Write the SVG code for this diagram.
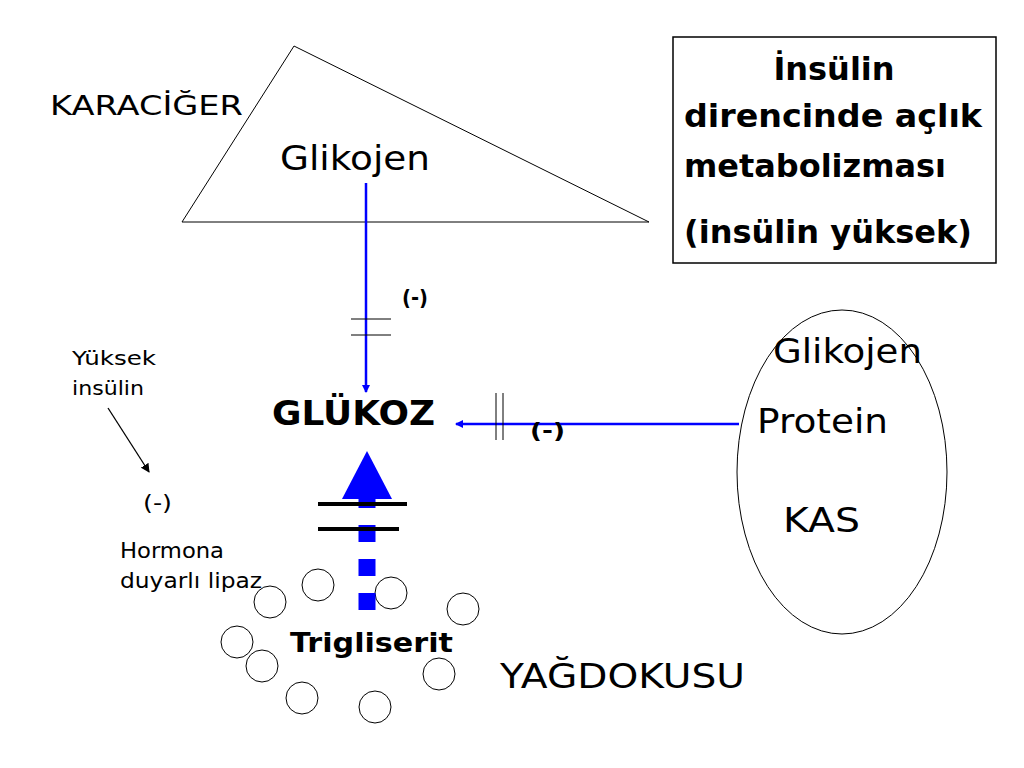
<svg xmlns="http://www.w3.org/2000/svg" width="1024" height="768" viewBox="0 0 1024 768">
<style>
text{font-family:"Comic Sans MS","DejaVu Sans","Liberation Sans",sans-serif;fill:#000}
.b{font-weight:bold}
.thin{fill:none;stroke:#000;stroke-width:1}
.blue{stroke:#0000ff;stroke-width:2.5;fill:none}
.circ{fill:#fff;stroke:#000;stroke-width:1}
</style>
<defs>
<marker id="ah" markerWidth="8" markerHeight="8" refX="7" refY="4" orient="auto" markerUnits="userSpaceOnUse" viewBox="0 0 8 8">
<path d="M0,0 L8,4 L0,8 Z" fill="#0000ff"/>
</marker>
<marker id="ak" markerWidth="9" markerHeight="9" refX="8" refY="4.5" orient="auto" markerUnits="userSpaceOnUse" viewBox="0 0 9 9">
<path d="M0,0 L9,4.5 L0,9 Z" fill="#000"/>
</marker>
</defs>
<rect width="1024" height="768" fill="#fff"/>

<g id="liver">
<polygon class="thin" points="294,46 182,222 649,222"/>
<text x="50" y="115" font-size="26" textLength="193" lengthAdjust="spacingAndGlyphs">KARACİĞER</text>
<text x="280" y="170" font-size="34" textLength="150" lengthAdjust="spacingAndGlyphs">Glikojen</text>
</g>

<g id="titlebox">
<rect x="673" y="37" width="323" height="226" fill="#fff" stroke="#000" stroke-width="1.5"/>
<text class="b" x="834" y="80" font-size="32" text-anchor="middle">İnsülin</text>
<text class="b" x="684" y="127" font-size="32" textLength="298" lengthAdjust="spacingAndGlyphs">direncinde açlık</text>
<text class="b" x="684" y="177" font-size="32" textLength="262" lengthAdjust="spacingAndGlyphs">metabolizması</text>
<text class="b" x="684" y="243" font-size="32" textLength="288" lengthAdjust="spacingAndGlyphs">(insülin yüksek)</text>
</g>

<g id="glukoz">
<text class="b" x="272" y="425" font-size="34" textLength="163" lengthAdjust="spacingAndGlyphs">GLÜKOZ</text>
</g>

<g id="muscle">
<ellipse class="thin" cx="842" cy="472" rx="105" ry="162"/>
<text x="773" y="363" font-size="34" textLength="149" lengthAdjust="spacingAndGlyphs">Glikojen</text>
<text x="757" y="433" font-size="34" textLength="131" lengthAdjust="spacingAndGlyphs">Protein</text>
<text x="783" y="532" font-size="34" textLength="77" lengthAdjust="spacingAndGlyphs">KAS</text>
</g>

<g id="adipose">
<circle class="circ" cx="270" cy="602" r="16"/>
<circle class="circ" cx="318" cy="585" r="16"/>
<circle class="circ" cx="391" cy="593" r="16"/>
<circle class="circ" cx="463" cy="609" r="16"/>
<circle class="circ" cx="237" cy="642" r="16"/>
<circle class="circ" cx="262" cy="666" r="16"/>
<circle class="circ" cx="439" cy="674" r="16"/>
<circle class="circ" cx="302" cy="698" r="16"/>
<circle class="circ" cx="375" cy="707" r="16"/>
<text class="b" x="290" y="652" font-size="26" textLength="163" lengthAdjust="spacingAndGlyphs">Trigliserit</text>
<text x="500" y="688" font-size="34" textLength="245" lengthAdjust="spacingAndGlyphs">YAĞDOKUSU</text>
</g>

<g id="lipase">
<text x="72" y="365" font-size="20" textLength="84" lengthAdjust="spacingAndGlyphs">Yüksek</text>
<text x="72" y="395" font-size="20" textLength="72" lengthAdjust="spacingAndGlyphs">insülin</text>
<text x="143" y="510" font-size="22" textLength="29" lengthAdjust="spacingAndGlyphs">(-)</text>
<text x="120" y="558" font-size="22" textLength="104" lengthAdjust="spacingAndGlyphs">Hormona</text>
<text x="120" y="588" font-size="22" textLength="142" lengthAdjust="spacingAndGlyphs">duyarlı lipaz</text>
</g>

<g id="connectors">
<line class="blue" x1="366" y1="183" x2="366" y2="392" marker-end="url(#ah)"/>
<line class="thin" x1="351" y1="319" x2="391" y2="319"/>
<line class="thin" x1="351" y1="335" x2="391" y2="335"/>
<text class="b" x="402" y="305" font-size="22" textLength="26" lengthAdjust="spacingAndGlyphs">(-)</text>

<line class="blue" x1="739" y1="424" x2="456" y2="424" marker-end="url(#ah)"/>
<line class="thin" x1="496" y1="393" x2="496" y2="440"/>
<line class="thin" x1="503" y1="393" x2="503" y2="440"/>
<text class="b" x="530" y="438" font-size="22" textLength="35" lengthAdjust="spacingAndGlyphs">(-)</text>

<line x1="367" y1="610" x2="367" y2="499" stroke="#0000ff" stroke-width="17" stroke-dasharray="17 17"/>
<polygon points="367,451 342,499 392,499" fill="#0000ff"/>
<line x1="318" y1="504" x2="407" y2="504" stroke="#000" stroke-width="4"/>
<line x1="318" y1="529" x2="399" y2="529" stroke="#000" stroke-width="4"/>

<line x1="108" y1="408" x2="149" y2="472" stroke="#000" stroke-width="1.3" marker-end="url(#ak)"/>
</g>
</svg>
